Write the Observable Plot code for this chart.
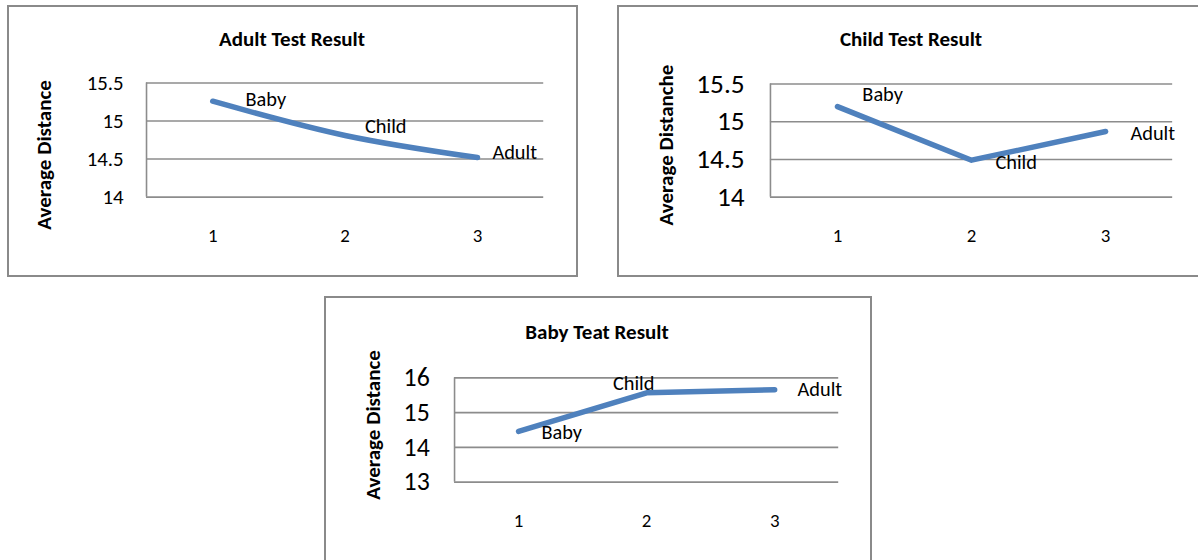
<!DOCTYPE html>
<html><head><meta charset="utf-8">
<script src="https://cdn.jsdelivr.net/npm/d3@7"></script>
<script src="https://cdn.jsdelivr.net/npm/@observablehq/plot@0.6"></script>
<style>
body{margin:0;background:#fff;width:1198px;height:560px;overflow:hidden;position:relative;font-family:Carlito,Calibri,Lato,sans-serif;}
.panel{position:absolute;box-sizing:border-box;border:2px solid #8a8a8a;background:#fff;}
.panel svg{position:absolute;left:-2px;top:-2px;overflow:visible}
.title{position:absolute;font-weight:bold;font-size:21px;transform:translate(-50%,-50%);white-space:nowrap;color:#000;line-height:1}
.ylab{position:absolute;font-weight:bold;font-size:21px;transform:translate(-50%,-50%) rotate(-90deg);white-space:nowrap;color:#000;line-height:1}
</style></head><body>
<script>
// ---- data ----
const categories = [1, 2, 3];
const seriesLabels = ["Baby", "Child", "Adult"];
const adultTestValues = [15.26, 14.81, 14.52];
const childTestValues = [15.20, 14.49, 14.87];
const babyTestValues = [14.46, 15.57, 15.66];
const titles = ["Adult Test Result", "Child Test Result", "Baby Teat Result"];
const yAxisLabels = ["Average Distance", "Average Distanche", "Average Distance"];
const yTicksAdult = [14, 14.5, 15, 15.5];
const yTicksChild = [14, 14.5, 15, 15.5];
const yTicksBaby = [13, 14, 15, 16];

// ---- layout (positions / styles only) ----
const panels = [
  {values: adultTestValues, yTicks: yTicksAdult, title: titles[0], ylab: yAxisLabels[0],
   left: 7, top: 5, width: 571, height: 272, mL: 140, mR: 31, mT: 78, mB: 79,
   titleX: 285, titleY: 34, ylabX: 37, ylabY: 150, yFont: 21, yPad: 23, xPad: 32,
   curve: "monotone-x",
   offsets: [[33, -2], [20, -9], [15, -5]]},
  {values: childTestValues, yTicks: yTicksChild, title: titles[1], ylab: yAxisLabels[1],
   left: 617, top: 5, width: 584, height: 272, mL: 154, mR: 25, mT: 79, mB: 79,
   titleX: 294, titleY: 34, ylabX: 49, ylabY: 140, yFont: 27.5, yPad: 26, xPad: 32,
   curve: "linear",
   offsets: [[25, -12], [24, 2], [25, 2]]},
  {values: babyTestValues, yTicks: yTicksBaby, title: titles[2], ylab: yAxisLabels[2],
   left: 324, top: 296, width: 548, height: 268, mL: 131, mR: 30, mT: 82, mB: 81,
   titleX: 273, titleY: 36, ylabX: 49, ylabY: 129, yFont: 26, yPad: 25, xPad: 32,
   curve: "linear",
   offsets: [[23, 1], [-34, -9], [23, 0]]}
];

const font = "Carlito, Calibri, Lato, sans-serif";
const xDomain = [d3.min(categories) - 0.5, d3.max(categories) + 0.5];

for (const p of panels) {
  const data = categories.map((c, i) => ({cat: c, value: p.values[i], label: seriesLabels[i]}));
  const yDomain = d3.extent(p.yTicks);
  const div = document.createElement("div");
  div.className = "panel";
  Object.assign(div.style, {left: p.left + "px", top: p.top + "px", width: p.width + "px", height: p.height + "px"});
  document.body.appendChild(div);

  const labelMarks = data.map((d, i) => Plot.text([d], {
    x: "cat", y: "value", text: "label", dx: p.offsets[i][0], dy: p.offsets[i][1],
    textAnchor: "start", fontSize: 20.5, fill: "#000"
  }));

  const chart = Plot.plot({
    width: p.width, height: p.height,
    marginLeft: p.mL, marginRight: p.mR, marginTop: p.mT, marginBottom: p.mB,
    style: {fontFamily: font, color: "#000", background: "transparent"},
    x: {type: "linear", domain: xDomain},
    y: {domain: yDomain},
    marks: [
      Plot.ruleY(p.yTicks, {stroke: "#8c8c8c", strokeWidth: 1.6}),
      Plot.ruleX([xDomain[0]], {y1: yDomain[0], y2: yDomain[1], stroke: "#8c8c8c", strokeWidth: 1.6}),
      Plot.axisY({ticks: p.yTicks, tickSize: 0, tickPadding: p.yPad, fontSize: p.yFont, label: null, tickFormat: d => String(d)}),
      Plot.axisX({ticks: categories, tickSize: 0, tickPadding: p.xPad, fontSize: 19, label: null, tickFormat: d => String(d)}),
      Plot.line(data, {x: "cat", y: "value", stroke: "#4f81bd", strokeWidth: 5.5, strokeLinecap: "round", strokeLinejoin: "round", curve: p.curve}),
      ...labelMarks
    ]
  });
  div.appendChild(chart);

  const t = document.createElement("div");
  t.className = "title"; t.textContent = p.title;
  Object.assign(t.style, {left: (p.titleX - 2) + "px", top: (p.titleY - 2) + "px"});
  div.appendChild(t);

  const yl = document.createElement("div");
  yl.className = "ylab"; yl.textContent = p.ylab;
  Object.assign(yl.style, {left: (p.ylabX - 2) + "px", top: (p.ylabY - 2) + "px"});
  div.appendChild(yl);
}
</script>
</body></html>
